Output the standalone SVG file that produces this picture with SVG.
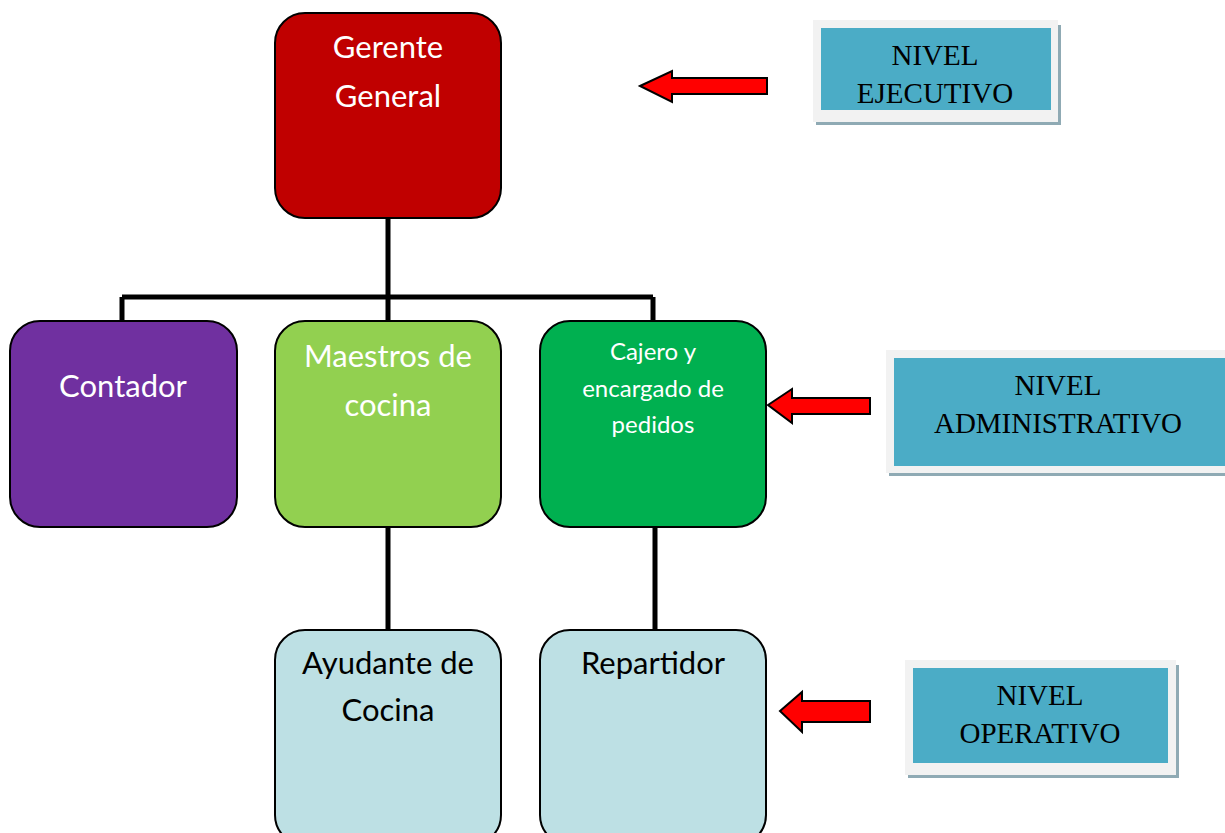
<svg xmlns="http://www.w3.org/2000/svg" width="1225" height="833" viewBox="0 0 1225 833">
<style>
.box{stroke:#000;stroke-width:2}
.t{font-family:Lato,"Open Sans","Noto Sans",sans-serif;text-anchor:middle}
.w{fill:#fff}
.k{fill:#000}
.lv{font-family:"Liberation Serif",serif;font-size:29px;text-anchor:middle;fill:#000}
.frame{fill:#F2F2F2}
.shadow{fill:#8FAAB4}
.inner{fill:#4BACC6}
.arrow{fill:#FF0000;stroke:#000;stroke-width:2;stroke-linejoin:miter}
.conn{fill:none;stroke:#000;stroke-width:5}
</style>
<rect width="1225" height="833" fill="#fff"/>
<g id="connectors">
<path class="conn" d="M388,218 V297 M122,297 H653 M122,297 V322 M388,297 V322 M653,297 V322"/>
<path class="conn" d="M388,527 V631 M655,527 V631"/>
</g>
<g id="gerente">
<rect class="box" x="275" y="13" width="226" height="205" rx="30" fill="#C00000"/>
<text class="t w" font-size="31" x="388" y="58">Gerente</text>
<text class="t w" font-size="31" x="388" y="107">General</text>
</g>
<g id="contador">
<rect class="box" x="10" y="321" width="227" height="206" rx="30" fill="#7030A0"/>
<text class="t w" font-size="31" x="123" y="397">Contador</text>
</g>
<g id="maestros">
<rect class="box" x="275" y="321" width="226" height="206" rx="30" fill="#92D050"/>
<text class="t w" font-size="31" x="388" y="367">Maestros de</text>
<text class="t w" font-size="31" x="388" y="416">cocina</text>
</g>
<g id="cajero">
<rect class="box" x="540" y="321" width="226" height="206" rx="30" fill="#00B050"/>
<text class="t w" font-size="24" x="653" y="360">Cajero y</text>
<text class="t w" font-size="24" x="653" y="397">encargado de</text>
<text class="t w" font-size="24" x="653" y="433">pedidos</text>
</g>
<g id="ayudante">
<rect class="box" x="275" y="630" width="226" height="215" rx="30" fill="#BDE0E4"/>
<text class="t k" font-size="31" x="388" y="674">Ayudante de</text>
<text class="t k" font-size="31" x="388" y="721">Cocina</text>
</g>
<g id="repartidor">
<rect class="box" x="540" y="630" width="226" height="215" rx="30" fill="#BDE0E4"/>
<text class="t k" font-size="31" x="653" y="674">Repartidor</text>
</g>
<g id="nivel-ejecutivo">
<rect class="shadow" x="816" y="25" width="245" height="100"/>
<rect class="frame" x="813" y="20" width="245" height="102"/>
<rect class="inner" x="821" y="28" width="230" height="82"/>
<text class="lv" x="935" y="65">NIVEL</text>
<text class="lv" x="935" y="103">EJECUTIVO</text>
</g>
<g id="nivel-administrativo">
<rect class="shadow" x="889" y="355" width="336" height="121"/>
<rect class="frame" x="886" y="350" width="339" height="123"/>
<rect class="inner" x="894" y="358" width="331" height="108"/>
<text class="lv" x="1058" y="395">NIVEL</text>
<text class="lv" x="1058" y="433">ADMINISTRATIVO</text>
</g>
<g id="nivel-operativo">
<rect class="shadow" x="908" y="665" width="271" height="113"/>
<rect class="frame" x="905" y="660" width="271" height="115"/>
<rect class="inner" x="913" y="668" width="255" height="95"/>
<text class="lv" x="1040" y="705">NIVEL</text>
<text class="lv" x="1040" y="743">OPERATIVO</text>
</g>
<g id="arrows">
<polygon class="arrow" points="640,86 672,71 672,78 767,78 767,94 672,94 672,102"/>
<polygon class="arrow" points="768,405 792,389 792,398 870,398 870,414 792,414 792,423"/>
<polygon class="arrow" points="780,711 802,692 802,701 870,701 870,722 802,722 802,732"/>
</g>
</svg>
